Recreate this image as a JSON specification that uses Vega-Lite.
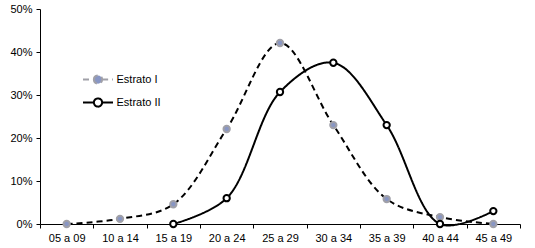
{
  "$schema": "https://vega.github.io/schema/vega-lite/v6.json",
  "autosize": "none",
  "width": 480,
  "height": 215,
  "padding": {"left": 40, "top": 9, "right": 15, "bottom": 24},
  "background": "white",
  "config": {
    "view": {"stroke": null},
    "font": "Liberation Sans",
    "axis": {"labelColor": "black", "labelFontSize": 11, "domainColor": "black", "tickColor": "black", "grid": false, "title": null},
    "legend": {"labelFontSize": 11, "labelColor": "black", "labelFont": "Liberation Sans"}
  },
  "data": {
    "values": [
      {"age": "05 a 09", "series": "Estrato I", "value": 0.0},
      {"age": "10 a 14", "series": "Estrato I", "value": 0.012},
      {"age": "15 a 19", "series": "Estrato I", "value": 0.046},
      {"age": "20 a 24", "series": "Estrato I", "value": 0.221},
      {"age": "25 a 29", "series": "Estrato I", "value": 0.421},
      {"age": "30 a 34", "series": "Estrato I", "value": 0.23},
      {"age": "35 a 39", "series": "Estrato I", "value": 0.058},
      {"age": "40 a 44", "series": "Estrato I", "value": 0.016},
      {"age": "45 a 49", "series": "Estrato I", "value": 0.0},
      {"age": "15 a 19", "series": "Estrato II", "value": 0.0},
      {"age": "20 a 24", "series": "Estrato II", "value": 0.06},
      {"age": "25 a 29", "series": "Estrato II", "value": 0.307},
      {"age": "30 a 34", "series": "Estrato II", "value": 0.375},
      {"age": "35 a 39", "series": "Estrato II", "value": 0.23},
      {"age": "40 a 44", "series": "Estrato II", "value": 0.0},
      {"age": "45 a 49", "series": "Estrato II", "value": 0.03}
    ]
  },
  "encoding": {
    "x": {
      "field": "age", "type": "nominal",
      "scale": {"type": "band", "domain": ["05 a 09", "10 a 14", "15 a 19", "20 a 24", "25 a 29", "30 a 34", "35 a 39", "40 a 44", "45 a 49"], "paddingInner": 0, "paddingOuter": 0},
      "axis": {"labelAngle": 0, "tickBand": "extent", "tickSize": 4, "labelPadding": 4}
    },
    "y": {
      "field": "value", "type": "quantitative",
      "scale": {"domain": [0, 0.5]},
      "axis": {"values": [0, 0.1, 0.2, 0.3, 0.4, 0.5], "format": ".0%", "tickSize": 4, "labelPadding": 4}
    }
  },
  "layer": [
    {
      "mark": {"type": "line", "interpolate": "catmull-rom", "color": "black", "strokeWidth": 2},
      "encoding": {
        "strokeDash": {
          "field": "series", "type": "nominal",
          "scale": {"domain": ["Estrato I", "Estrato II"], "range": [[6, 4], [1, 0]]},
          "legend": {
            "title": null,
            "orient": "none",
            "legendX": 49.5,
            "legendY": 62,
            "padding": 0,
            "symbolType": "M-2,0H-0.55M0.55,0H2M-0.55,0A0.55,0.55,0,1,1,0.55,0A0.55,0.55,0,1,1,-0.55,0Z",
            "symbolSize": 225,
            "symbolStrokeWidth": 2,
            "symbolStrokeColor": "black",
            "labelOffset": 10,
            "rowPadding": 6,
            "encode": {
              "symbols": {
                "update": {
                  "fill": {"signal": "datum.value === 'Estrato I' ? '#8896C4' : 'white'"},
                  "stroke": {"value": "black"},
                  "opacity": {"value": 1},
                  "strokeWidth": {"value": 2}
                }
              }
            }
          }
        }
      }
    },
    {
      "mark": {"type": "point", "filled": false, "size": 40, "strokeWidth": 2, "opacity": 1},
      "encoding": {
        "fill": {
          "field": "series", "type": "nominal",
          "scale": {"domain": ["Estrato I", "Estrato II"], "range": ["#8896C4", "white"]},
          "legend": null
        },
        "stroke": {
          "field": "series", "type": "nominal",
          "scale": {"domain": ["Estrato I", "Estrato II"], "range": ["#a0a0a8", "black"]},
          "legend": null
        }
      }
    }
  ]
}
